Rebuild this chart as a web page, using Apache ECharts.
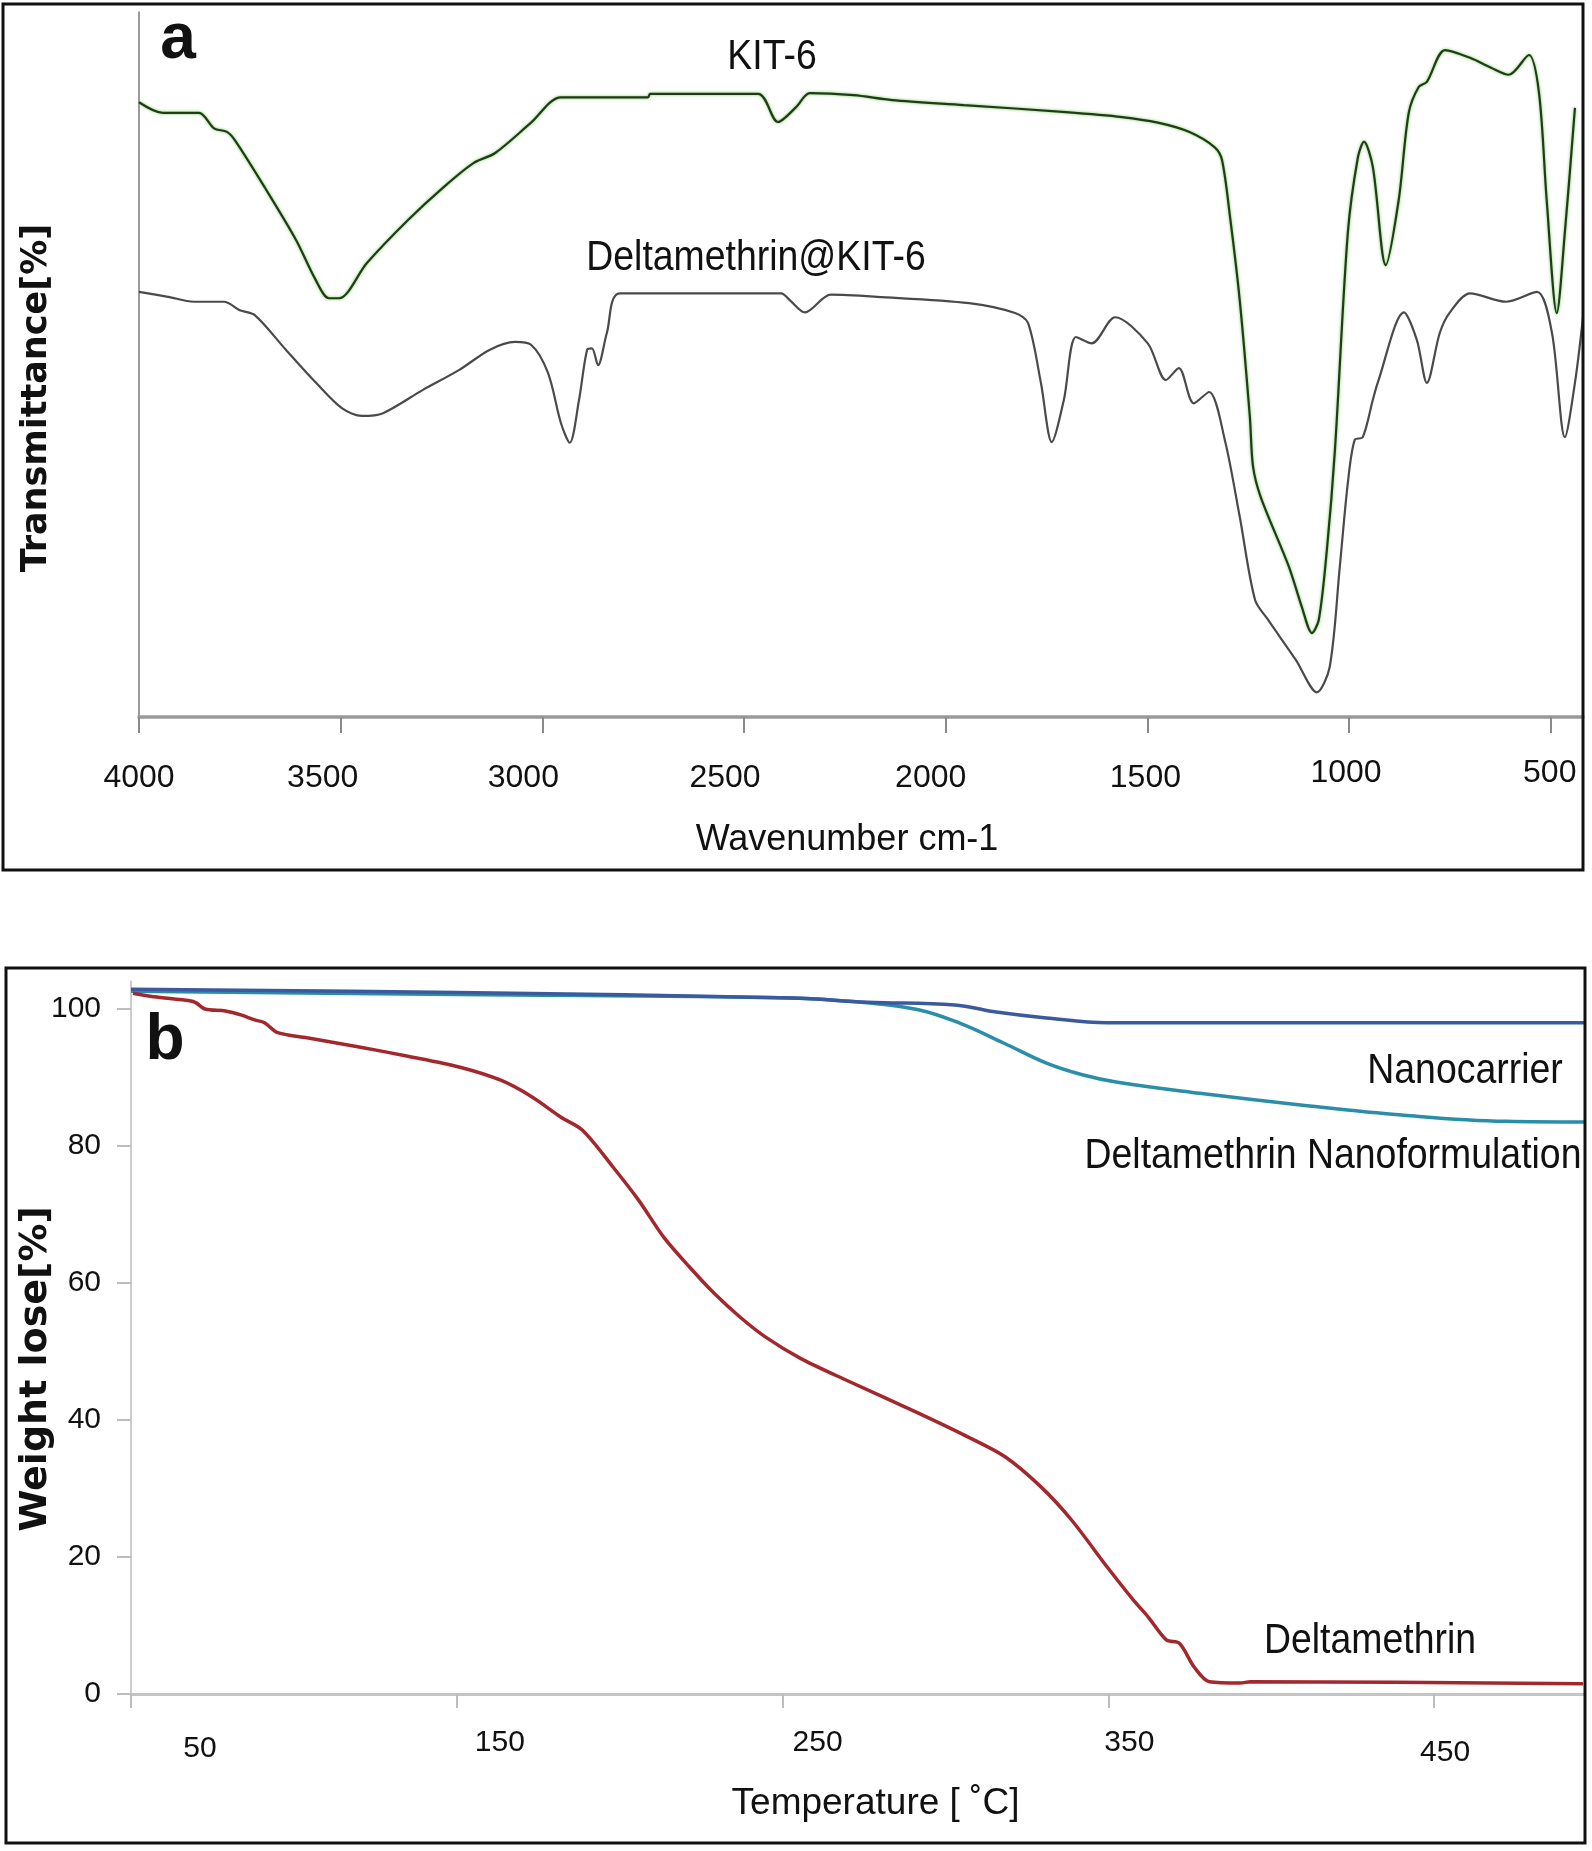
<!DOCTYPE html>
<html>
<head>
<meta charset="utf-8">
<script src="https://cdn.jsdelivr.net/npm/echarts@6/dist/echarts.min.js"></script>
<style>
  html, body { margin: 0; padding: 0; background: #ffffff; }
  #chart { width: 1592px; height: 1851px; }
</style>
</head>
<body>
<div id="chart"></div>
<script>
// ---------------- Panel a: FTIR ----------------
const ftirTicks = [4000, 3500, 3000, 2500, 2000, 1500, 1000, 500];

const kit6Wavenumber = [4000,3941,3851,3814,3782,3762,3688,3611,3562,3529,3504,3435,3333,3244,3170,3117,3028,2954,2738,2733,2465,2416,2371,2337,2228,2133,1955,1702,1563,1474,1397,1333,1315,1295,1271,1246,1238,1219,1149,1117,1092,1075,1055,1035,1003,978,963,941,909,877,852,827,807,762,700,648,604,554,529,510,485,465,440];
const kit6Transmittance = [87.2,85.7,85.7,83.5,83.0,81.8,75.1,67.7,62.0,59.4,59.4,64.4,70.5,75.2,78.6,80.0,84.3,87.9,87.9,88.4,88.4,84.4,86.5,88.5,88.2,87.5,86.8,85.8,85.1,84.3,83.0,80.8,79.0,70.9,59.1,42.6,35.5,31.2,21.3,15.6,11.9,13.8,23.7,37.9,68.7,79.4,81.6,78.0,64.1,73.3,85.7,89.4,90.1,94.6,93.5,92.1,91.1,93.9,88.5,73.3,57.3,68.7,86.4];

const deltaKitWavenumber = [4000,3928,3864,3789,3750,3713,3636,3561,3497,3447,3395,3296,3207,3130,3068,3028,2986,2954,2932,2909,2889,2877,2862,2840,2808,2408,2386,2349,2285,2170,1942,1828,1796,1764,1737,1707,1677,1638,1580,1499,1454,1422,1385,1347,1308,1271,1233,1201,1132,1080,1048,1023,1003,986,966,941,929,864,832,807,775,750,700,611,534,497,465,440,420];
const deltaKitTransmittance = [60.3,59.6,58.9,58.9,57.7,57.0,52.1,47.4,43.8,42.7,43.1,46.4,49.2,52.1,53.2,52.8,48.8,41.7,38.9,45.0,52.1,52.3,49.9,54.5,60.1,60.1,59.1,57.4,59.9,59.6,58.7,57.3,55.9,47.4,39.0,45.0,53.9,53.0,56.7,53.0,47.8,49.5,44.5,46.1,39.3,28.4,16.6,13.8,8.1,3.5,7.1,21.3,33.2,39.3,39.7,45.0,47.4,57.4,53.5,47.4,54.5,57.4,60.1,58.9,60.3,54.5,39.7,47.4,56.7];

// ---------------- Panel b: TGA ----------------
const tgaTempTicks = [50, 150, 250, 350, 450];
const tgaWeightTicks = [0, 20, 40, 60, 80, 100];

const deltamethrinTemp = [50.6,57,68,70,72.7,79,84,88,91,94.8,104,119.6,135,151,163.5,173,182,188.6,198,205.8,213.5,221.5,229,237,244.8,255.5,269.6,291.7,307,318.4,329.4,338.7,349.7,357.7,362.3,367.8,371.8,376.4,381,390.5,393.6,495.7];
const deltamethrinWeight = [102.3,101.8,101.2,100.9,100.0,99.7,99.1,98.4,98.0,96.6,95.8,94.5,93.1,91.5,89.6,87.2,84.2,82.3,76.9,72.1,66.7,62.3,58.5,55.0,52.1,49.0,45.8,41.0,37.5,34.6,30.2,25.4,18.5,13.7,11.2,7.9,7.4,3.9,1.8,1.6,1.8,1.5];

const nanocarrierTemp = [50,150,252.5,276,302.8,315,331,349.7,496];
const nanocarrierWeight = [102.9,102.4,101.6,101.0,100.6,99.6,98.7,98.0,98.0];

const nanoformTemp = [50,150,252.5,276,291.7,304,318,331,342,352.8,378,409,440.8,472,496];
const nanoformWeight = [102.6,102.1,101.6,100.9,99.9,98.0,95.0,92.1,90.4,89.3,87.7,86.0,84.5,83.6,83.5];

// ---------------- helpers / styles ----------------
const zip = (xs, ys) => xs.map((x, i) => [x, ys[i]]);
const SANS = "'Liberation Sans', Arial, sans-serif";
const BOLDY = "'DejaVu Sans', 'Liberation Sans', Arial, sans-serif";
const INK = '#111111';
const NARROW_SCALE = 0.87;   // condensed look of the original lettering

// label nudges (pixels) to mimic the hand-placed tick labels of the original
const ftirLabelNudge = {4000:[0,5],3500:[-18,5],3000:[-19,5],2500:[-19,5],2000:[-15,5],1500:[-2,5],1000:[-3,0],500:[-1,0]};
const tgaLabelNudge = {50:[69,6],150:[43,0],250:[35,0],350:[21,0],450:[11,10]};

function richFor(nudges, fontSize) {
  const rich = {};
  Object.keys(nudges).forEach(k => {
    const [dx, dy] = nudges[k];
    rich['v' + k] = {
      fontFamily: SANS, fontSize: fontSize, color: INK,
      padding: [dy, dx < 0 ? -2 * dx : 0, 0, dx > 0 ? 2 * dx : 0]
    };
  });
  return rich;
}

function label(text, x, y, opts) {
  opts = opts || {};
  return {
    type: 'text', silent: true, z: 100, x: x, y: y,
    scaleX: opts.scaleX == null ? NARROW_SCALE : opts.scaleX,
    style: {
      text: text, fontFamily: opts.fontFamily || SANS, fontWeight: opts.fontWeight || 'normal',
      fontSize: opts.fontSize || 43, fill: INK, align: 'center', verticalAlign: 'middle'
    }
  };
}

const chart = echarts.init(document.getElementById('chart'), null, { renderer: 'canvas' });

const option = {
  backgroundColor: '#ffffff',
  animation: false,
  grid: [
    { left: 139, top: 12, width: 1444, height: 705, containLabel: false },
    { left: 131, top: 981.6, width: 1453, height: 712.4, containLabel: false }
  ],
  xAxis: [
    {
      gridIndex: 0, type: 'value', inverse: true, min: 420, max: 4000,
      splitLine: { show: false },
      axisLine: { show: true, lineStyle: { color: '#9a9a9a', width: 3.5 } },
      axisTick: { show: true, customValues: ftirTicks, length: 16, lineStyle: { color: '#8a8a8a', width: 2 } },
      axisLabel: {
        show: true, customValues: ftirTicks, margin: 40,
        fontFamily: SANS, fontSize: 32, color: INK,
        formatter: v => '{v' + v + '|' + v + '}',
        rich: richFor(ftirLabelNudge, 32)
      },
      name: 'Wavenumber cm-1', nameLocation: 'middle', nameGap: 105,
      nameTextStyle: { fontFamily: SANS, fontSize: 36, color: INK, padding: [0, 28, 0, 0] }
    },
    {
      gridIndex: 1, type: 'value', min: 50, max: 496,
      splitLine: { show: false },
      axisLine: { show: true, lineStyle: { color: '#c4c4c4', width: 3 } },
      axisTick: { show: true, customValues: tgaTempTicks, length: 14, lineStyle: { color: '#bdbdbd', width: 2 } },
      axisLabel: {
        show: true, customValues: tgaTempTicks, margin: 34,
        fontFamily: SANS, fontSize: 30, color: INK,
        formatter: v => '{v' + v + '|' + v + '}',
        rich: richFor(tgaLabelNudge, 30)
      },
      name: 'Temperature [ \u02DAC]', nameLocation: 'middle', nameGap: 91,
      nameTextStyle: { fontFamily: SANS, fontSize: 37, color: INK, padding: [0, 0, 0, 36] }
    }
  ],
  yAxis: [
    {
      gridIndex: 0, type: 'value', min: 0, max: 100,
      splitLine: { show: false },
      axisLine: { show: true, lineStyle: { color: '#7a7a7a', width: 1.5 } },
      axisTick: { show: false },
      axisLabel: { show: false },
      name: 'Transmittance[%]', nameLocation: 'middle', nameGap: 85, nameMoveOverlap: false,
      nameTextStyle: { fontFamily: BOLDY, fontWeight: 'bold', fontSize: 35, color: INK, padding: [0, 67, 0, 0] }
    },
    {
      gridIndex: 1, type: 'value', min: 0, max: 104,
      splitLine: { show: false },
      axisLine: { show: true, lineStyle: { color: '#cccccc', width: 2 } },
      axisTick: { show: true, customValues: tgaWeightTicks, length: 14, lineStyle: { color: '#bdbdbd', width: 2 } },
      axisLabel: { show: true, customValues: tgaWeightTicks, margin: 30, fontFamily: SANS, fontSize: 30, color: INK },
      name: 'Weight lose[%]', nameLocation: 'middle', nameGap: 76, nameMoveOverlap: false,
      nameTextStyle: { fontFamily: BOLDY, fontWeight: 'bold', fontSize: 38, color: INK, padding: [0, 62, 0, 0] }
    }
  ],
  series: [
    {
      name: 'Deltamethrin@KIT-6', type: 'line', xAxisIndex: 0, yAxisIndex: 0,
      data: zip(deltaKitWavenumber, deltaKitTransmittance),
      showSymbol: false, smooth: 0.3, clip: false,
      lineStyle: { color: '#4a4a4a', width: 2.2 }
    },
    {
      name: 'KIT-6', type: 'line', xAxisIndex: 0, yAxisIndex: 0,
      data: zip(kit6Wavenumber, kit6Transmittance),
      showSymbol: false, smooth: 0.3, clip: false,
      lineStyle: { color: '#23391b', width: 2.2, shadowColor: 'rgba(90,200,60,0.9)', shadowBlur: 3 }
    },
    {
      name: 'Deltamethrin Nanoformulation', type: 'line', xAxisIndex: 1, yAxisIndex: 1,
      data: zip(nanoformTemp, nanoformWeight),
      showSymbol: false, smooth: 0.4, clip: false,
      lineStyle: { color: '#2a8ea8', width: 3.5 }
    },
    {
      name: 'Nanocarrier', type: 'line', xAxisIndex: 1, yAxisIndex: 1,
      data: zip(nanocarrierTemp, nanocarrierWeight),
      showSymbol: false, smooth: 0.4, clip: false,
      lineStyle: { color: '#3b5a9e', width: 3.5 }
    },
    {
      name: 'Deltamethrin', type: 'line', xAxisIndex: 1, yAxisIndex: 1,
      data: zip(deltamethrinTemp, deltamethrinWeight),
      showSymbol: false, smooth: 0.3, clip: false,
      lineStyle: { color: '#a3282e', width: 3.5 }
    }
  ],
  graphic: [
    { type: 'rect', silent: true, z: 100, shape: { x: 3, y: 4, width: 1580, height: 866 }, style: { fill: null, stroke: '#111', lineWidth: 3 } },
    { type: 'rect', silent: true, z: 100, shape: { x: 6, y: 968, width: 1579, height: 875 }, style: { fill: null, stroke: '#111', lineWidth: 3 } },
    label('a', 178, 40, { fontWeight: 'bold', fontSize: 64, scaleX: 1 }),
    label('KIT-6', 772, 57),
    label('Deltamethrin@KIT-6', 756, 258),
    label('b', 165, 1041, { fontWeight: 'bold', fontSize: 64, scaleX: 1 }),
    label('Nanocarrier', 1465, 1071),
    label('Deltamethrin Nanoformulation', 1333, 1156),
    label('Deltamethrin', 1370, 1641)
  ]
};

chart.setOption(option);
</script>
</body>
</html>
